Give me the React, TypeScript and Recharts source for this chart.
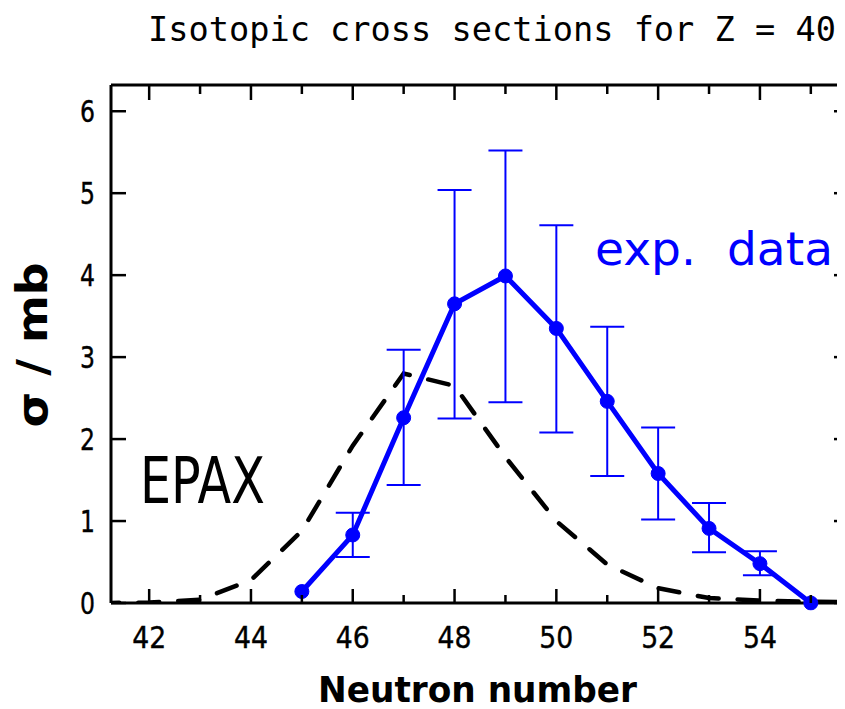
import React from "react";
import { ComposedChart, Line, XAxis, YAxis, ErrorBar } from "recharts";

// measured Z = 40 isotopic cross sections (mb)
const expN = [45, 46, 47, 48, 49, 50, 51, 52, 53, 54, 55];
const expSigma = [0.14, 0.83, 2.26, 3.65, 3.99, 3.35, 2.46, 1.58, 0.91, 0.48, 0.0];
const expLow = [null, 0.56, 1.44, 2.25, 2.45, 2.08, 1.55, 1.02, 0.62, 0.34, null];
const expHigh = [null, 1.1, 3.09, 5.04, 5.52, 4.61, 3.37, 2.14, 1.22, 0.63, null];

// EPAX systematics
const epaxN = [41, 42, 43, 44, 45, 46, 47, 48, 49, 50, 51, 52, 53, 54, 55, 56];
const epaxSigma = [0.0, 0.005, 0.04, 0.28, 0.88, 1.92, 2.8, 2.65, 1.78, 1.0, 0.47, 0.18, 0.06, 0.03, 0.015, 0.01];

const xTicks = [42, 43, 44, 45, 46, 47, 48, 49, 50, 51, 52, 53, 54, 55];
const yTicks = [0, 1, 2, 3, 4, 5, 6];

const BLUE = "#0000ff";
const FONT = "'DejaVu Sans', sans-serif";

const expRows = expN.map((n, i) => ({
  n,
  sigma: expSigma[i],
  err:
    expLow[i] == null ? null : [expSigma[i] - (expLow[i] as number), (expHigh[i] as number) - expSigma[i]],
}));
const epaxRows = epaxN.map((n, i) => ({ n, sigma: epaxSigma[i] }));

function BottomTick({ x, y, payload }: any) {
  const v = payload.value;
  const major = v % 2 === 0;
  return (
    <g>
      <line x1={x} x2={x} y1={y} y2={y - (major ? 14 : 8)} stroke="#000" strokeWidth={2.5} />
      {major && (
        <text x={x} y={y + 45} textAnchor="middle" fontSize={31} fontFamily={FONT} textLength={34} lengthAdjust="spacingAndGlyphs" fill="#000" stroke="#000" strokeWidth={0.4}>
          {v}
        </text>
      )}
    </g>
  );
}

function TopTick({ x, y, payload }: any) {
  const major = payload.value % 2 === 0;
  return <line x1={x} x2={x} y1={y} y2={y + (major ? 15 : 9)} stroke="#000" strokeWidth={2.5} />;
}

function LeftTick({ x, y, payload }: any) {
  return (
    <g>
      <line x1={x} x2={x + 15} y1={y} y2={y} stroke="#000" strokeWidth={2.5} />
      <text x={x - 16} y={y + 11} textAnchor="end" fontSize={30} fontFamily={FONT} textLength={15} lengthAdjust="spacingAndGlyphs" fill="#000" stroke="#000" strokeWidth={0.4}>
        {payload.value}
      </text>
    </g>
  );
}

function RightTick({ x, y }: any) {
  return <line x1={x} x2={x - 15} y1={y} y2={y} stroke="#000" strokeWidth={2.5} />;
}

export default function App() {
  const axisLine = { stroke: "#000", strokeWidth: 3 };
  return (
    <div style={{ position: "relative", width: 837, height: 701, overflow: "hidden", background: "#fff" }}>
      <ComposedChart width={860} height={701} margin={{ top: 76, left: 102, right: 18, bottom: 105 }}>
        <XAxis
          xAxisId="b"
          type="number"
          dataKey="n"
          domain={[41.25, 55.75]}
          allowDataOverflow
          ticks={xTicks}
          height={1}
          tickSize={0}
          tickMargin={0}
          tickLine={false}
          axisLine={axisLine}
          tick={<BottomTick />}
          interval={0}
        />
        <XAxis
          xAxisId="t"
          orientation="top"
          type="number"
          dataKey="n"
          domain={[41.25, 55.75]}
          allowDataOverflow
          ticks={xTicks}
          height={1}
          tickSize={0}
          tickMargin={0}
          tickLine={false}
          axisLine={axisLine}
          tick={<TopTick />}
          interval={0}
        />
        <YAxis
          yAxisId="l"
          type="number"
          domain={[0, 6.32]}
          allowDataOverflow
          ticks={yTicks}
          width={1}
          tickSize={0}
          tickMargin={0}
          tickLine={false}
          axisLine={axisLine}
          tick={<LeftTick />}
          interval={0}
        />
        <YAxis
          yAxisId="r"
          orientation="right"
          type="number"
          domain={[0, 6.32]}
          allowDataOverflow
          ticks={yTicks}
          width={1}
          tickSize={0}
          tickMargin={0}
          tickLine={false}
          axisLine={axisLine}
          tick={<RightTick />}
          interval={0}
        />
        <Line
          xAxisId="b"
          yAxisId="l"
          data={epaxRows}
          dataKey="sigma"
          type="linear"
          stroke="#000"
          strokeWidth={4.5}
          strokeDasharray="21 19"
          strokeLinecap="round"
          dot={false}
          isAnimationActive={false}
        />
        <Line
          xAxisId="b"
          yAxisId="l"
          data={expRows}
          dataKey="sigma"
          type="linear"
          stroke={BLUE}
          strokeWidth={5}
          dot={{ r: 7, fill: BLUE, stroke: BLUE, strokeWidth: 1, clipDot: false }}
          isAnimationActive={false}
        >
          <ErrorBar dataKey="err" direction="y" width={17} stroke={BLUE} strokeWidth={2} />
        </Line>
      </ComposedChart>
      <svg width={837} height={701} style={{ position: "absolute", left: 0, top: 0, pointerEvents: "none" }}>
        <text x={140} y={33} fontSize={34} fontFamily="'DejaVu Sans Mono', monospace" textLength={688} lengthAdjust="spacingAndGlyphs" fill="#000">
          Isotopic cross sections for Z = 40
        </text>
        <text x={587} y={257} fontSize={46} fontFamily={FONT} textLength={101} lengthAdjust="spacingAndGlyphs" fill={BLUE}>
          exp.
        </text>
        <text x={719} y={257} fontSize={46} fontFamily={FONT} textLength={106} lengthAdjust="spacingAndGlyphs" fill={BLUE}>
          data
        </text>
        <text x={132} y={495} fontSize={64} fontFamily={FONT} textLength={125} lengthAdjust="spacingAndGlyphs" fill="#000">
          EPAX
        </text>
        <text x={310} y={694} fontSize={35} fontWeight="bold" fontFamily={FONT} textLength={319} lengthAdjust="spacingAndGlyphs" fill="#000">
          Neutron number
        </text>
        <text
          x={39}
          y={337}
          transform="rotate(-90, 39, 337)"
          textAnchor="middle"
          fontSize={42}
          fontWeight="bold"
          fontFamily={FONT}
          textLength={165}
          lengthAdjust="spacingAndGlyphs"
          fill="#000"
        >
          σ / mb
        </text>
      </svg>
    </div>
  );
}
